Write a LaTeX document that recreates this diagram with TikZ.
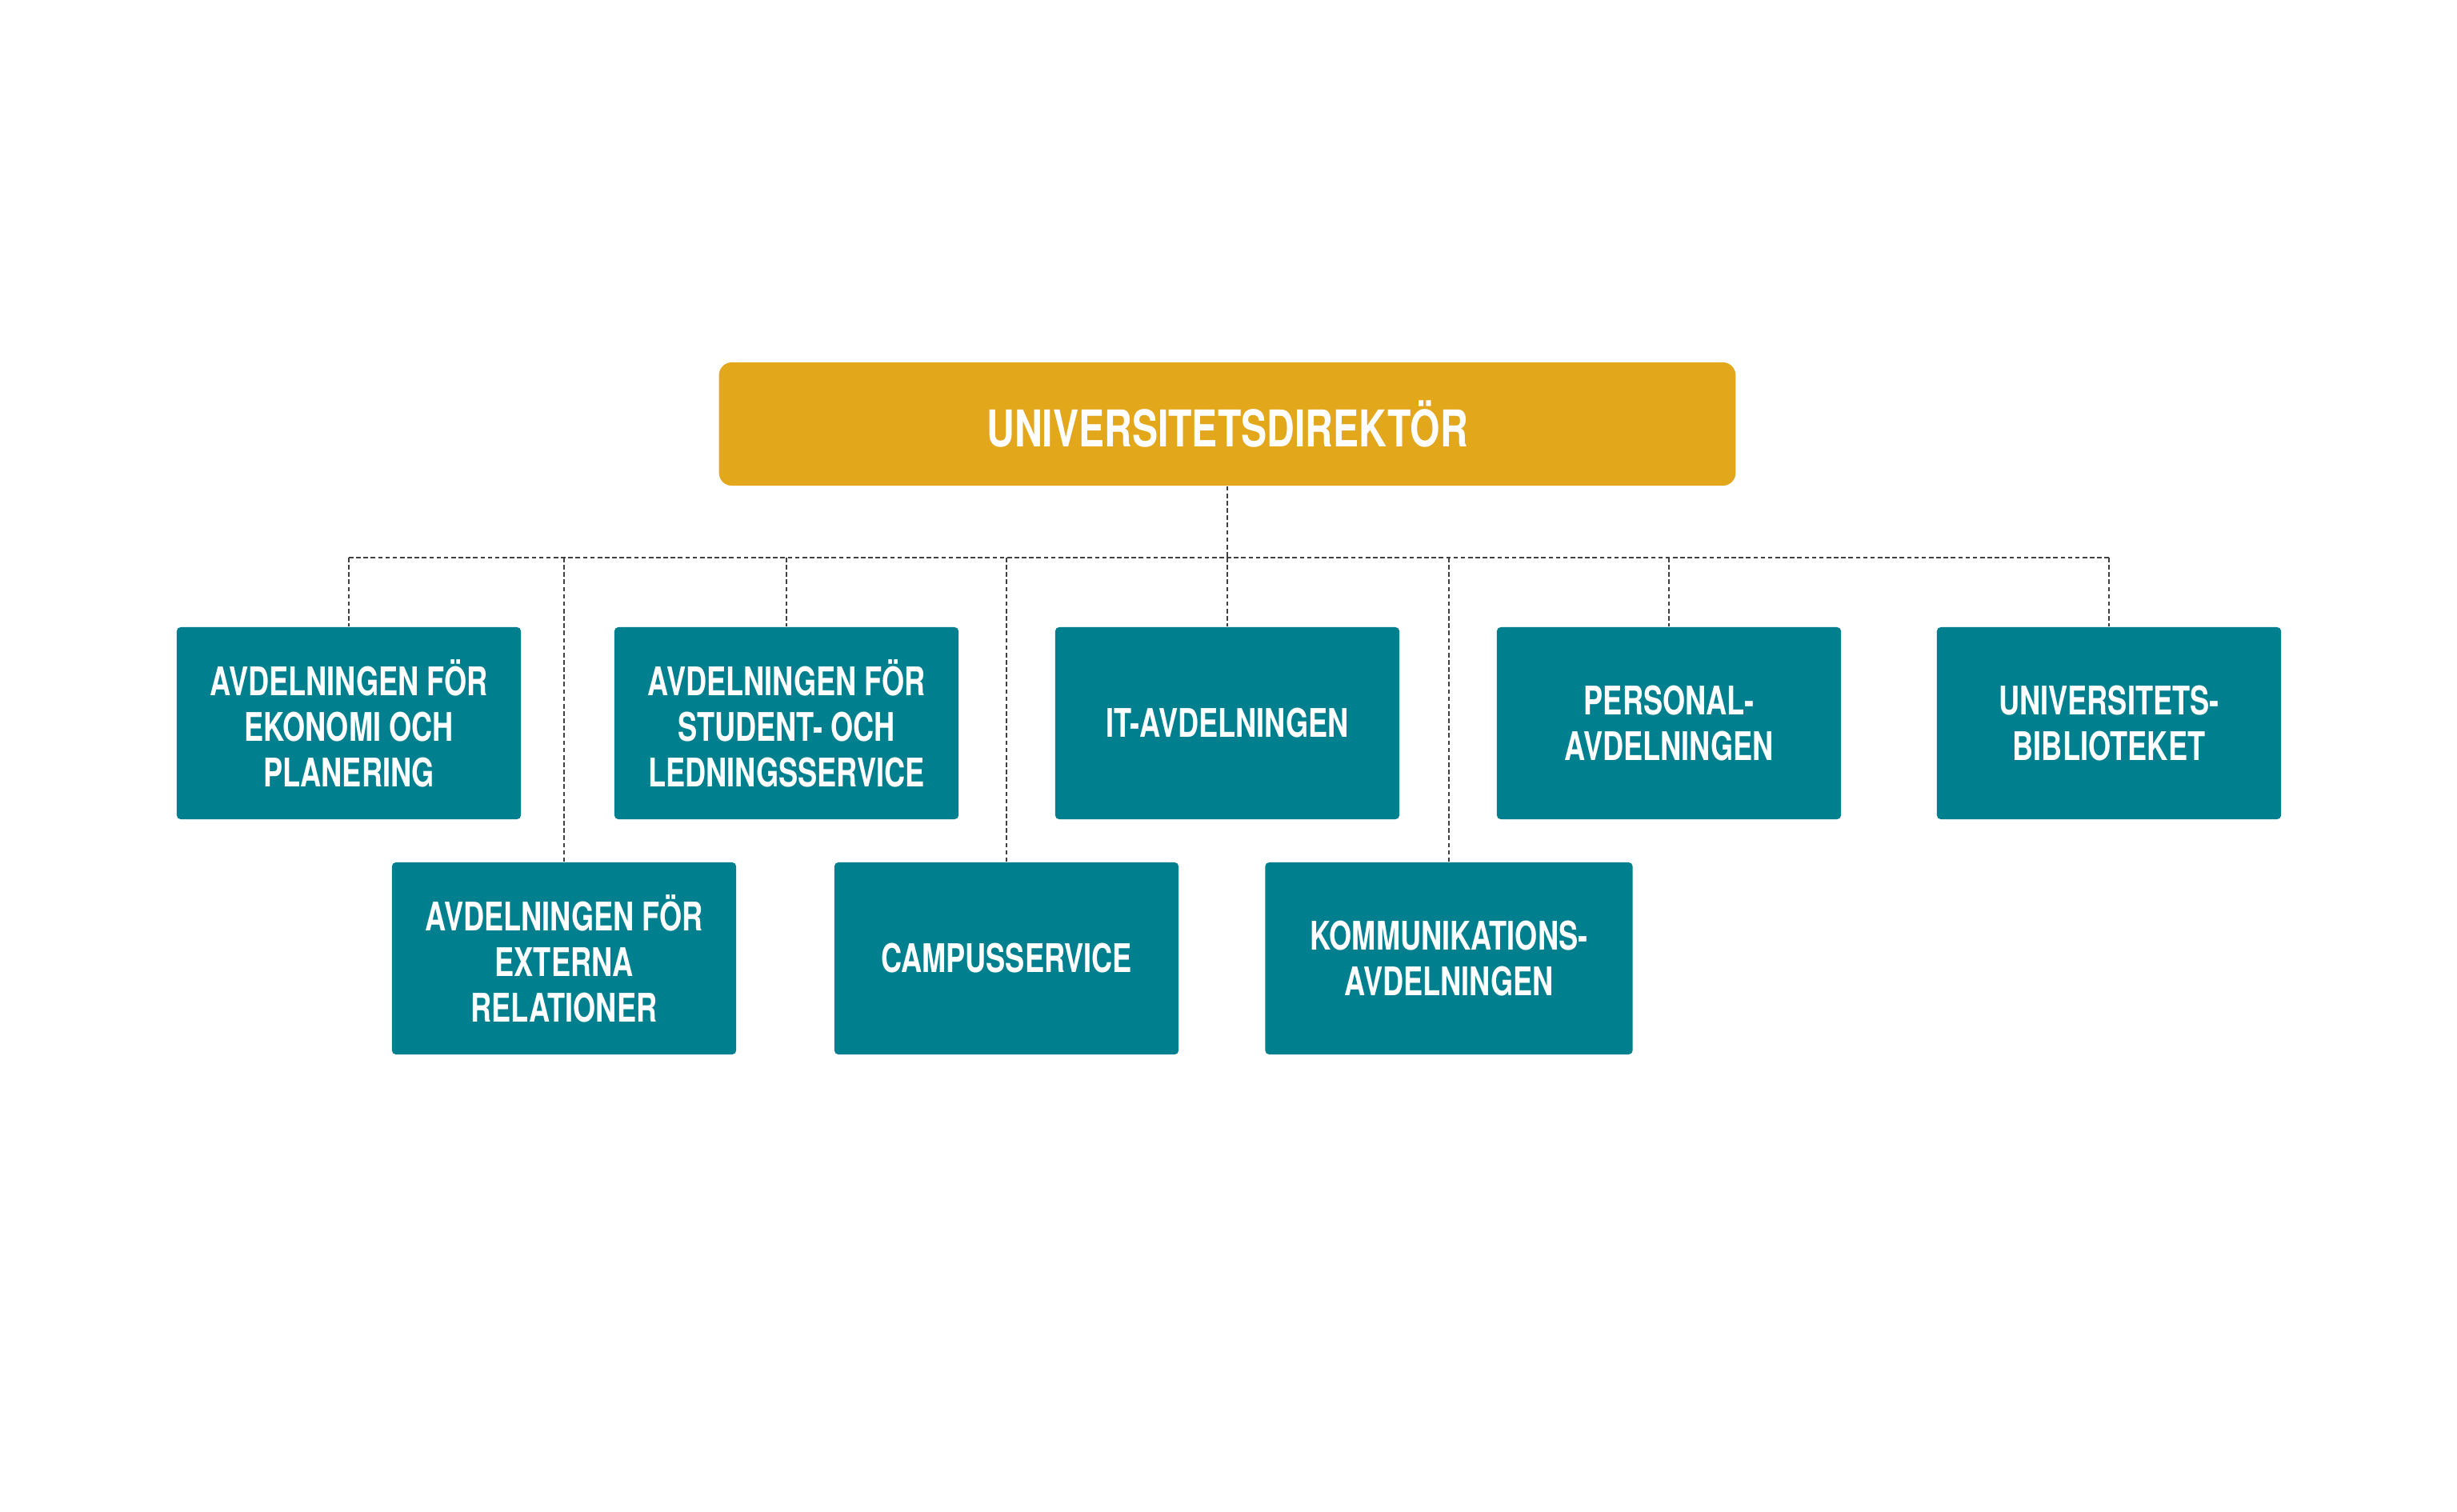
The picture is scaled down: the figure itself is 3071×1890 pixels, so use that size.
\documentclass[tikz,border=0pt]{standalone}
\usepackage{fontspec}
\setmainfont{TeX Gyre Heros}[FakeStretch=0.76]
\newfontfamily\avdfont{TeX Gyre Heros}[FakeStretch=0.735]
\usepackage{tikz}

\definecolor{dirgold}{HTML}{E2A71B}
\definecolor{avdteal}{HTML}{00808F}

\begin{document}
\begin{tikzpicture}[x=0.01cm, y=-0.01cm,
        head/.style={fill=dirgold, rounded corners=0.16cm, inner sep=0pt,
            minimum width=12.70cm, minimum height=1.54cm, text=white,
            font=\bfseries\fontsize{18}{20}\selectfont},
        avd/.style={fill=avdteal, rounded corners=0.05cm, inner sep=0pt,
            minimum width=4.30cm, minimum height=2.40cm, text=white, align=center,
            font=\avdfont\bfseries\fontsize{14}{16.2}\selectfont},
        link/.style={draw=black!75, line width=0.45pt, dash pattern=on 1.6pt off 1pt}]
    \useasboundingbox (0,0) rectangle (3071,1890);
    % top node
    \node[head] (dir) at (1534,530) {UNIVERSITETSDIREKTÖR};
    % first row
    \node[avd] (eko) at (436,904) {AVDELNINGEN FÖR\\EKONOMI OCH\\PLANERING};
    \node[avd] (stu) at (983,904) {AVDELNINGEN FÖR\\STUDENT- OCH\\LEDNINGSSERVICE};
    \node[avd] (it)  at (1534,904) {IT-AVDELNINGEN};
    \node[avd] (per) at (2086,904) {PERSONAL-\\AVDELNINGEN};
    \node[avd] (bib) at (2636,904) {UNIVERSITETS-\\BIBLIOTEKET};
    % second row
    \node[avd] (ext) at (705,1198) {AVDELNINGEN FÖR\\EXTERNA\\RELATIONER};
    \node[avd] (cam) at (1258,1198) {CAMPUSSERVICE};
    \node[avd, minimum width=4.59cm] (kom) at (1811,1198) {KOMMUNIKATIONS-\\AVDELNINGEN};
    % bus line under the top node
    \coordinate (bus) at (1534,697);
    \draw[link] (dir.south) -- (bus);
    \draw[link] (eko.north |- bus) -- (bib.north |- bus);
    % drops to every box
    \draw[link] (bus -| eko.north) -- (eko.north)
        (bus -| stu.north) -- (stu.north)
        (bus -| it.north) -- (it.north)
        (bus -| per.north) -- (per.north)
        (bus -| bib.north) -- (bib.north)
        (bus -| ext.north) -- (ext.north)
        (bus -| cam.north) -- (cam.north)
        (bus -| kom.north) -- (kom.north);
\end{tikzpicture}
\end{document}
